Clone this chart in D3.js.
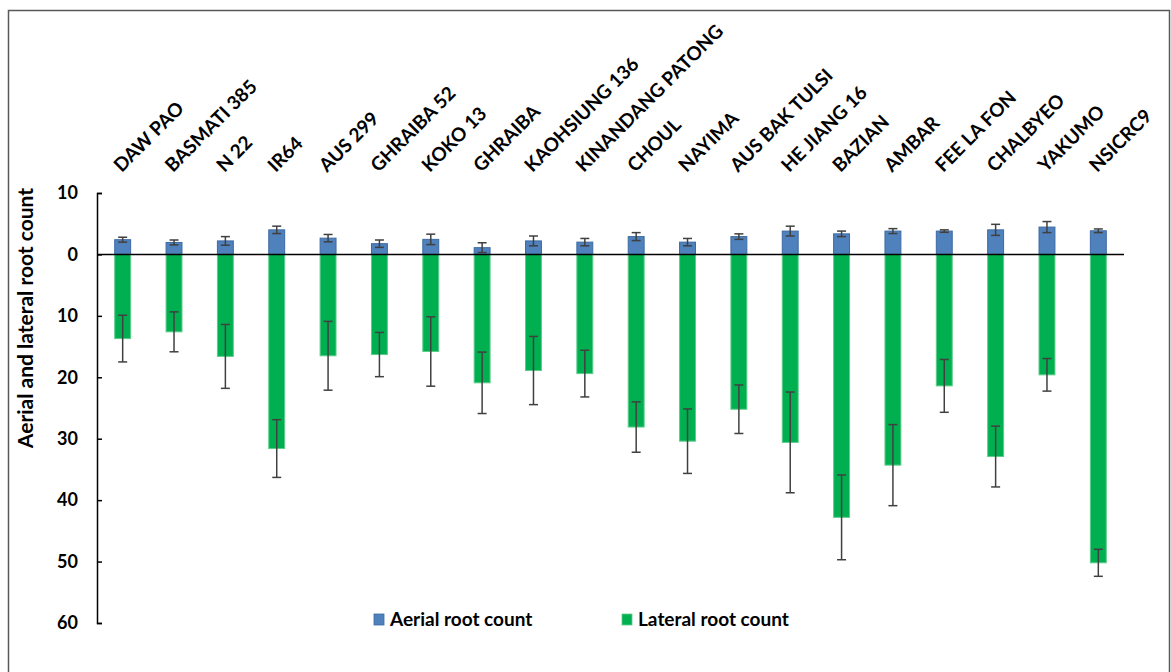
<!DOCTYPE html>
<html>
<head>
<meta charset="utf-8">
<script src="https://cdn.jsdelivr.net/npm/d3@7"></script>
<style>
  html, body { margin: 0; padding: 0; background: #ffffff; }
  svg { display: block; }
  text { font-family: Lato, "Liberation Sans", Arial, sans-serif; font-weight: bold; fill: #000; }
</style>
</head>
<body>
<svg id="chart" width="1171" height="672"></svg>
<script>
// Rice varieties
const categories = ["DAW PAO", "BASMATI 385", "N 22", "IR64", "AUS 299", "GHRAIBA 52", "KOKO 13",
  "GHRAIBA", "KAOHSIUNG 136", "KINANDANG PATONG", "CHOUL", "NAYIMA", "AUS BAK TULSI",
  "HE JIANG 16", "BAZIAN", "AMBAR", "FEE LA FON", "CHALBYEO", "YAKUMO", "NSICRC9"];

// Aerial root count (mean and error), plotted upward
const aerialMean = [2.4, 1.95, 2.2, 4.0, 2.65, 1.75, 2.45, 1.1, 2.2, 2.0, 2.9, 2.0, 2.9,
  3.8, 3.35, 3.8, 3.8, 4.0, 4.45, 3.85];
const aerialErr = [0.4, 0.4, 0.7, 0.6, 0.6, 0.6, 0.85, 0.8, 0.8, 0.6, 0.65, 0.6, 0.45,
  0.8, 0.45, 0.4, 0.2, 0.9, 0.9, 0.3];

// Lateral root count (mean and error), plotted downward
const lateralMean = [13.7, 12.6, 16.6, 31.6, 16.5, 16.3, 15.8, 20.9, 18.9, 19.4, 28.1, 30.4, 25.2,
  30.6, 42.8, 34.3, 21.4, 32.9, 19.6, 50.2];
const lateralErr = [3.8, 3.25, 5.2, 4.7, 5.6, 3.6, 5.65, 5.0, 5.55, 3.8, 4.1, 5.25, 3.95,
  8.2, 6.9, 6.6, 4.3, 4.95, 2.65, 2.2];

// Value axis ticks (lateral counts shown as positive numbers below zero)
const yTicks = [10, 0, -10, -20, -30, -40, -50, -60];

const seriesNames = ["Aerial root count", "Lateral root count"];
const colors = { aerial: "#4F81BD", aerialEdge: "#3c6aa3", lateral: "#00B050", lateralEdge: "#5ccc8a" };

const svg = d3.select("#chart");

// outer frame
svg.append("rect")
  .attr("x", 8.5).attr("y", 10.5).attr("width", 1161).attr("height", 700)
  .attr("fill", "none").attr("stroke", "#595959").attr("stroke-width", 1.5);

const x = d3.scaleBand().domain(categories).range([97, 1124]).paddingInner(0.69).paddingOuter(0.345);
const y = d3.scaleLinear().domain([10, -60]).range([193, 623]);

// value axis
const yAxis = d3.axisLeft(y).tickValues(yTicks).tickSize(-5).tickPadding(19)
  .tickFormat(d => Math.abs(d));
const gy = svg.append("g").attr("transform", "translate(97,0)").call(yAxis);
gy.select(".domain").attr("stroke", "#000").attr("stroke-width", 1.5);
gy.selectAll(".tick line").attr("stroke", "#000").attr("stroke-width", 1.5);
gy.selectAll(".tick text").style("font-size", "18px").attr("fill", "#000");

// axis title
svg.append("text")
  .attr("transform", "translate(33,318) rotate(-90)")
  .attr("text-anchor", "middle")
  .style("font-size", "21px")
  .text("Aerial and lateral root count");

// aerial bars
svg.append("g").selectAll("rect").data(categories).join("rect")
  .attr("x", d => x(d)).attr("width", x.bandwidth())
  .attr("y", (d, i) => y(aerialMean[i]))
  .attr("height", (d, i) => y(0) - y(aerialMean[i]))
  .attr("fill", colors.aerial).attr("stroke", colors.aerialEdge).attr("stroke-width", 1);

// lateral bars
svg.append("g").selectAll("rect").data(categories).join("rect")
  .attr("x", d => x(d)).attr("width", x.bandwidth())
  .attr("y", y(0))
  .attr("height", (d, i) => y(-lateralMean[i]) - y(0))
  .attr("fill", colors.lateral).attr("stroke", colors.lateralEdge).attr("stroke-width", 1);

// zero line
svg.append("line")
  .attr("x1", 97).attr("x2", 1124).attr("y1", y(0)).attr("y2", y(0))
  .attr("stroke", "#000").attr("stroke-width", 1.5);

// error bars
function errorBars(means, errs, sign) {
  const g = svg.append("g").attr("stroke", "#404040").attr("stroke-width", 1.5).attr("fill", "none");
  categories.forEach((c, i) => {
    const cx = x(c) + x.bandwidth() / 2;
    const hi = y(sign * (means[i] + errs[i]));
    const lo = y(sign * (means[i] - errs[i]));
    g.append("line").attr("x1", cx).attr("x2", cx).attr("y1", hi).attr("y2", lo);
    g.append("line").attr("x1", cx - 4.5).attr("x2", cx + 4.5).attr("y1", hi).attr("y2", hi);
    g.append("line").attr("x1", cx - 4.5).attr("x2", cx + 4.5).attr("y1", lo).attr("y2", lo);
  });
}
errorBars(aerialMean, aerialErr, 1);
errorBars(lateralMean, lateralErr, -1);

// category labels, slanted above the plot
svg.append("g").selectAll("text").data(categories).join("text")
  .attr("transform", d => `translate(${x(d) + x.bandwidth() / 2 - 1},173) rotate(-45)`)
  .attr("text-anchor", "start")
  .style("font-size", "19px")
  .text(d => d);

// legend
const legend = svg.append("g");
const legendItems = [
  { name: seriesNames[0], fill: colors.aerial, edge: colors.aerialEdge, x: 374 },
  { name: seriesNames[1], fill: colors.lateral, edge: colors.lateralEdge, x: 622 }
];
legendItems.forEach(it => {
  legend.append("rect").attr("x", it.x).attr("y", 614).attr("width", 10).attr("height", 11)
    .attr("fill", it.fill).attr("stroke", it.edge).attr("stroke-width", 0.8);
  legend.append("text").attr("x", it.x + 16).attr("y", 626)
    .style("font-size", "19px").text(it.name);
});
</script>
</body>
</html>
